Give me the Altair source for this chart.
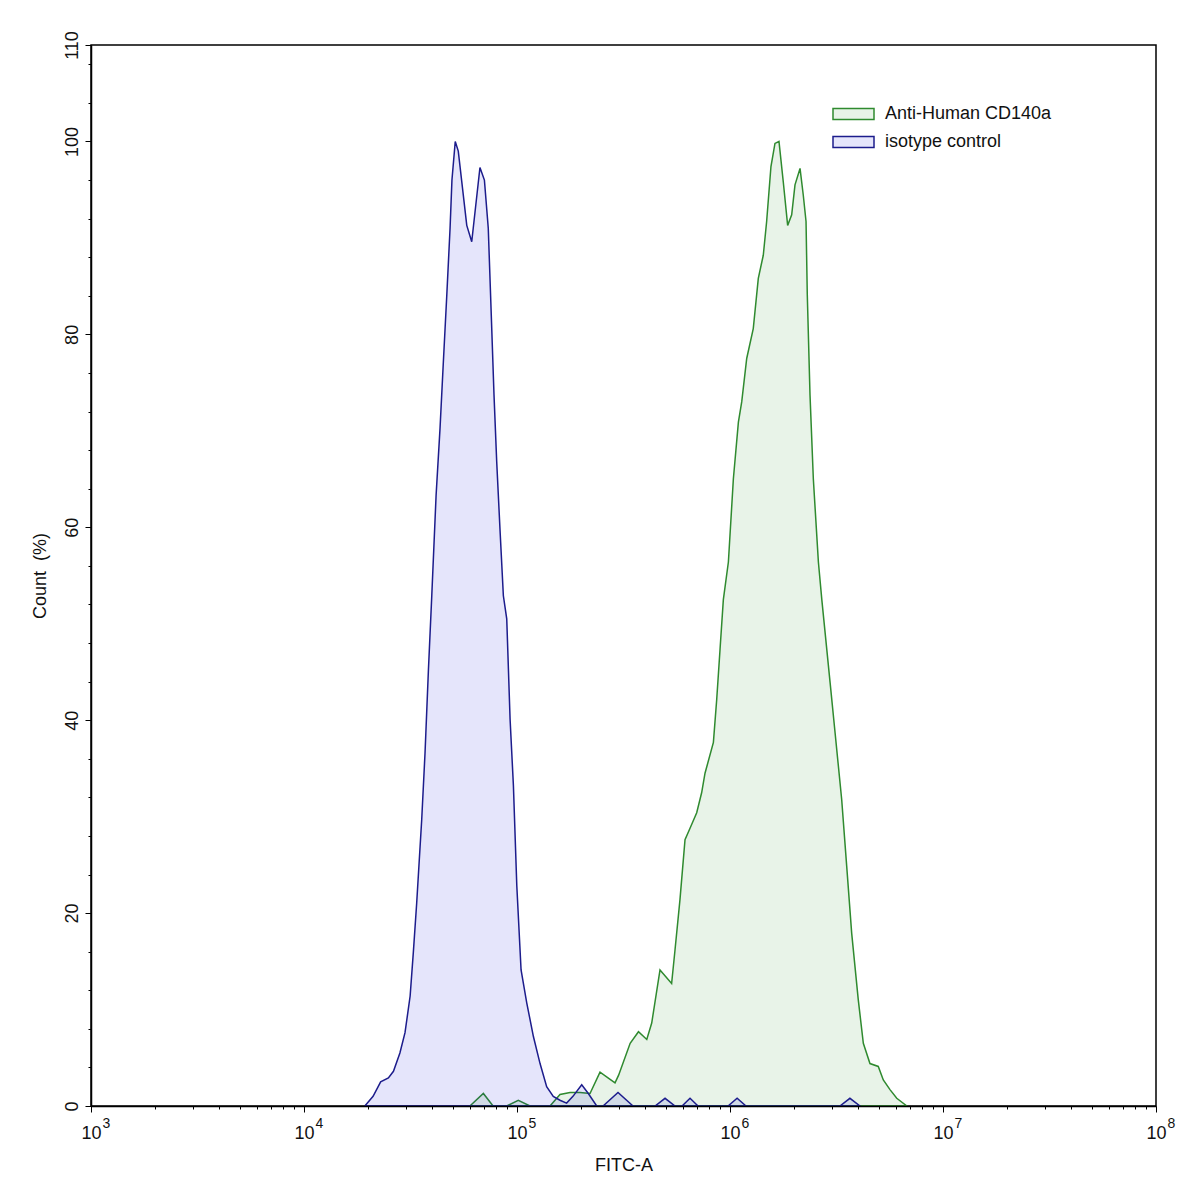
import altair as alt
import pandas as pd

# ---- data (FITC-A value, Count %) ----
iso_x = [19300, 21100, 22900, 24900, 26300, 28200, 29800, 31500, 32600, 33800,
         35700, 37000, 38400, 39800, 41700, 43500, 45100, 46800, 48500, 49500,
         51300, 53000, 58100, 61300, 67000, 70300, 73300, 76100, 78000, 80300,
         83200, 86300, 89500, 92800, 96200, 99800, 104500, 111100, 119400, 128300,
         137800, 148000, 159100, 171000, 183100, 201300, 216200, 236700, 253500, 298000,
         350600, 444800, 495500, 552000, 595600, 649100, 707900, 979200, 1080000, 1189000,
         3281000, 3656000, 4074000]
iso_y = [0, 1.0, 2.5, 2.9, 3.6, 5.5, 7.6, 11.4, 15.9, 21.0,
         29.7, 36.6, 45.3, 52.9, 63.3, 70.2, 77.1, 84.0, 91.0, 96.0,
         100.0, 99.0, 91.3, 89.6, 97.3, 96.0, 91.0, 80.6, 73.7, 66.8,
         59.8, 52.9, 50.5, 40.1, 33.2, 22.8, 14.1, 10.7, 7.2, 4.4,
         2.0, 1.0, 0.6, 0.3, 1.0, 2.2, 1.3, 0, 0, 1.4,
         0, 0, 0.8, 0, 0, 0.8, 0, 0, 0.8, 0,
         0, 0.8, 0]

cd_x = [60100, 69500, 77200, 89500, 101400, 115100, 142900, 159200, 177400, 197600,
        220200, 245300, 268500, 288500, 300000, 339800, 371800, 406700, 429000, 469200,
        532000, 552000, 582300, 614900, 649100, 697700, 736300, 763300, 835700, 866500,
        898300, 930600, 982700, 1037000, 1095000, 1135000, 1198000, 1286000, 1358000, 1433000,
        1486000, 1557000, 1626000, 1698000, 1779000, 1865000, 1948000, 2019000, 2132000, 2209000,
        2275000, 2306000, 2375000, 2462000, 2600000, 2698000, 2951000, 3114000, 3344000, 3530000,
        3727000, 4002000, 4226000, 4541000, 4967000, 5245000, 5638000, 6066000, 6760000]
cd_y = [0, 1.3, 0, 0, 0.6, 0, 0, 1.2, 1.4, 1.4,
        1.3, 3.5, 2.9, 2.4, 3.2, 6.5, 7.7, 6.9, 8.6, 14.1,
        12.7, 16.2, 21.4, 27.6, 28.8, 30.4, 32.5, 34.5, 37.7, 42.2,
        47.4, 52.5, 56.4, 65.0, 70.9, 73.0, 77.5, 80.6, 85.8, 88.2,
        91.7, 97.4, 99.8, 100.0, 95.8, 91.3, 92.4, 95.5, 97.2, 94.4,
        91.7, 84.1, 73.7, 65.0, 56.4, 52.5, 43.9, 38.7, 31.8, 24.9,
        17.9, 11.0, 6.5, 4.4, 4.1, 2.7, 1.7, 0.8, 0]

series_names = ["Anti-Human CD140a", "isotype control"]
line_colors = ["#2f8a2f", "#1c1c8c"]
fill_colors = ["rgba(30,140,30,0.10)", "rgba(0,0,220,0.10)"]

decades = [1e3, 1e4, 1e5, 1e6, 1e7, 1e8]
x_ticks = [m * 10 ** d for d in range(3, 8) for m in range(1, 10)] + [1e8]
y_ticks = list(range(0, 110, 4)) + [110]

df = pd.concat([
    pd.DataFrame({"fitc": cd_x, "count": cd_y, "series": series_names[0]}),
    pd.DataFrame({"fitc": iso_x, "count": iso_y, "series": series_names[1]}),
])
dec_df = pd.DataFrame({"decade": decades})

FONT = "Liberation Sans"
xscale = alt.Scale(type="log", domain=[1e3, 1e8], nice=False)
DEC_TEST = "indexof([1000,10000,100000,1000000,10000000,100000000], datum.value) >= 0"

area = alt.Chart(df).mark_area(strokeWidth=1.5, interpolate="linear").encode(
    x=alt.X("fitc:Q", scale=xscale, axis=alt.Axis(
        values=x_ticks,
        labelExpr=DEC_TEST + " ? '10' : ''",
        tickSize={"condition": {"test": DEC_TEST, "value": 6}, "value": 3},
        title="FITC-A", titleX=532.5, titleY=64, titleBaseline="alphabetic",
        titleFont=FONT, titleFontSize=18, titleFontWeight="normal", titleColor="#111",
        labelFont=FONT, labelFontSize=18, labelColor="#111", labelPadding=12,
        labelBaseline="top", labelAlign="center",
        labelFlush=False, labelOverlap=False, labelBound=False,
        domainColor="black", domainWidth=1.5, tickColor="black", tickWidth=1,
        grid=False, zindex=1)),
    y=alt.Y("count:Q", stack=False, scale=alt.Scale(domain=[0, 110], nice=False, zero=True), axis=alt.Axis(
        values=y_ticks,
        labelExpr="(datum.value % 20 == 0 || datum.value == 110) ? datum.label : ''",
        tickSize={"condition": {"test": "datum.value % 20 == 0 || datum.value == 110", "value": 6}, "value": 3},
        labelAngle=270, labelAlign="center", labelBaseline="alphabetic", labelPadding=8,
        labelFont=FONT, labelFontSize=18, labelColor="#111",
        labelFlush=False, labelOverlap=False, labelBound=False,
        title="Count\u00a0\u00a0(%)", titleAngle=270, titleX=-46, titleY=530.5,
        titleAlign="center", titleBaseline="alphabetic",
        titleFont=FONT, titleFontSize=18, titleFontWeight="normal", titleColor="#111",
        domainColor="black", domainWidth=1.5, tickColor="black", tickWidth=1,
        grid=False, zindex=1)),
    fill=alt.Fill("series:N", scale=alt.Scale(domain=series_names, range=fill_colors),
                  legend=alt.Legend(title=None, orient="none", legendX=741, legendY=58,
                                    symbolType="M-1,-0.55L3.1,-0.55L3.1,0.55L-1,0.55Z",
                                    symbolSize=400, symbolStrokeWidth=1.5,
                                    labelFont=FONT, labelFontSize=18, labelColor="#111",
                                    labelLimit=400, labelOffset=31, rowPadding=8, padding=0)),
    stroke=alt.Stroke("series:N", scale=alt.Scale(domain=series_names, range=line_colors)),
)

exp_axis = alt.Chart(dec_df).mark_point(opacity=0).encode(
    x=alt.X("decade:Q", scale=xscale, axis=alt.Axis(
        values=decades, labelExpr="'' + round(log(datum.value) / LN10)",
        title=None, ticks=False, domain=False, grid=False,
        labelFont=FONT, labelFontSize=14, labelColor="#111", labelPadding=10,
        labelBaseline="top", labelAlign="left", labelOffset=11,
        labelFlush=False, labelOverlap=False, labelBound=False, orient="bottom", zindex=1)),
)

chart = alt.layer(area, exp_axis).resolve_axis(x="independent").properties(
    width=1065, height=1061, autosize="none",
    padding={"left": 83, "top": 37, "right": 33, "bottom": 79},
    background="white",
).configure_view(stroke="black", strokeWidth=1.5)

chart.save("out.html", embed_options={"renderer": "svg", "actions": False})
